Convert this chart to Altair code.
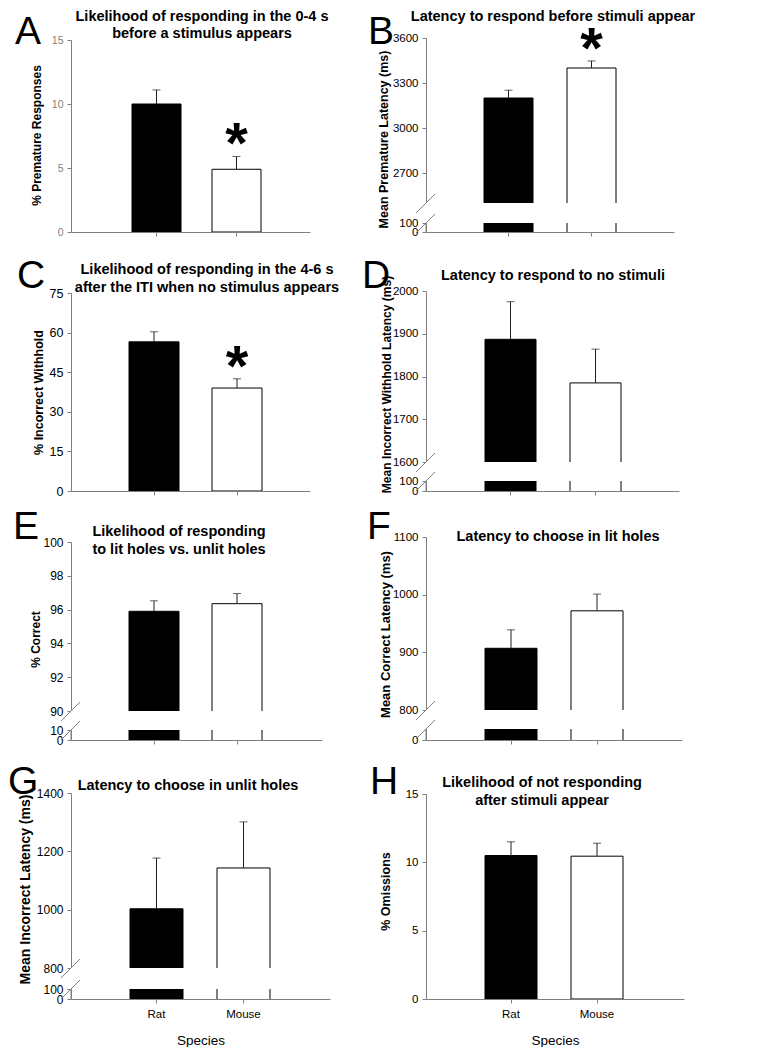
import altair as alt
import pandas as pd

# ---------------- data ----------------
species = ["Rat", "Mouse"]

prem_mean = [10.0, 4.9]          # A  % premature responses
prem_sem = [1.1, 1.0]
prem_sig = ["", "*"]

premlat_mean = [3200, 3400]      # B  mean premature latency (ms)
premlat_sem = [52, 47]
premlat_sig = ["", "*"]

incw_mean = [56.5, 39.0]         # C  % incorrect withhold
incw_sem = [3.8, 3.5]
incw_sig = ["", "*"]

incwlat_mean = [1887, 1785]      # D  mean incorrect withhold latency (ms)
incwlat_sem = [88, 79]

corr_mean = [95.9, 96.35]        # E  % correct
corr_sem = [0.62, 0.6]

corrlat_mean = [907, 972]        # F  mean correct latency (ms)
corrlat_sem = [32, 29]

incorrlat_mean = [1003, 1143]    # G  mean incorrect latency (ms)
incorrlat_sem = [174, 158]

omis_mean = [10.5, 10.45]        # H  % omissions
omis_sem = [1.0, 0.95]

no_sig = ["", ""]

# ---------------- styles ----------------
FONT = "Liberation Sans"
GRAY = "#7f7f7f"
ERR = "#1e1e1e"

panels = [
    dict(letter="A", mean=prem_mean, sem=prem_sem, sig=prem_sig,
         title=["Likelihood of responding in the 0-4 s", "before a stimulus appears"],
         ytitle="% Premature Responses", up=[0, 15], up_ticks=[0, 5, 10, 15], up_rng=[194, 2],
         W=239, H=194, bars=(61, 141, 49), tdx=11.5, tby=-17.5, ytx=-35, yty=97, yts=12,
         lx=-56, ly=6, labcol=GRAY, labsize=10.5),
    dict(letter="B", mean=premlat_mean, sem=premlat_sem, sig=premlat_sig,
         title=["Latency to respond before stimuli appear"],
         ytitle="Mean Premature Latency (ms)", up=[2500, 3600], up_ticks=[2700, 3000, 3300, 3600],
         up_rng=[165, 0], lo=[0, 100], lo_ticks=[0, 100], lo_rng=[194, 185],
         W=248, H=194, bars=(58, 141, 49), tdx=3, tby=-17.5, ytx=-43, yty=101, yts=12.5,
         lx=-58, ly=6),
    dict(letter="C", mean=incw_mean, sem=incw_sem, sig=incw_sig,
         title=["Likelihood of responding in the 4-6 s", "after the ITI when no stimulus appears"],
         ytitle="% Incorrect Withhold", up=[0, 75], up_ticks=[0, 15, 30, 45, 60, 75], up_rng=[213, 15],
         W=239, H=213, bars=(58, 141, 50), tdx=16.5, tby=-4, ytx=-33, yty=114, yts=12.5,
         lx=-54, ly=10, labsize=12.5),
    dict(letter="D", mean=incwlat_mean, sem=incwlat_sem, sig=no_sig,
         title=["Latency to respond to no stimuli"],
         ytitle="Mean Incorrect Withhold Latency (ms)", up=[1600, 2000],
         up_ticks=[1600, 1700, 1800, 1900, 2000], up_rng=[184, 13],
         lo=[0, 100], lo_ticks=[0, 100], lo_rng=[213, 203],
         W=253, H=213, bars=(59, 144, 51), tdx=0.5, tby=2, ytx=-40, yty=106, yts=12,
         lx=-64, ly=10),
    dict(letter="E", mean=corr_mean, sem=corr_sem, sig=no_sig,
         title=["Likelihood of responding", "to lit holes vs. unlit holes"],
         ytitle="% Correct", up=[90, 100], up_ticks=[90, 92, 94, 96, 98, 100], up_rng=[174, 5],
         lo=[0, 10], lo_ticks=[0, 10], lo_rng=[203, 193],
         W=251, H=203, bars=(58, 141, 50), tdx=-17.5, tby=-1, ytx=-36, yty=102, yts=12,
         lx=-58, ly=2, labsize=12),
    dict(letter="F", mean=corrlat_mean, sem=corrlat_sem, sig=no_sig,
         title=["Latency to choose in lit holes"],
         ytitle="Mean Correct Latency (ms)", up=[800, 1100], up_ticks=[800, 900, 1000, 1100],
         up_rng=[173, 0], lo=[0, 100], lo_ticks=[0], lo_rng=[203, 192],
         W=256, H=203, bars=(59, 145, 52), tdx=4, tby=4, ytx=-41, yty=97, yts=13,
         lx=-59, ly=2),
    dict(letter="G", mean=incorrlat_mean, sem=incorrlat_sem, sig=no_sig,
         title=["Latency to choose in unlit holes"],
         ytitle="Mean Incorrect Latency (ms)", up=[800, 1400], up_ticks=[800, 1000, 1200, 1400],
         up_rng=[182, 7], lo=[0, 100], lo_ticks=[0, 100], lo_rng=[213, 203],
         W=259, H=213, bars=(59, 146, 53), tdx=-12.5, tby=4, ytx=-46, yty=103, yts=14,
         lx=-63, ly=8, bottom=True, labsize=12),
    dict(letter="H", mean=omis_mean, sem=omis_sem, sig=no_sig,
         title=["Likelihood of not responding", "after stimuli appear"],
         ytitle="% Omissions", up=[0, 15], up_ticks=[0, 5, 10, 15], up_rng=[213, 8],
         W=258, H=213, bars=(59, 145, 52), tdx=-13, tby=1, ytx=-41, yty=105, yts=12.5,
         lx=-56, ly=8, bottom=True),
]


def label_style(p):
    return dict(labelFont=FONT, labelFontSize=p.get("labsize", 11.5), labelColor=p.get("labcol", "black"),
                labelPadding=4, labelOverlap=False, labelFlush=False, domainColor=GRAY,
                tickColor=GRAY, tickSize=4, grid=False, format="d")


def make_panel(p):
    W, H = p["W"], p["H"]
    L, M, bw = p["bars"]
    step = M - L
    pin = 1 - bw / step
    pout = (W / step - 2 + pin) / 2
    align = L / (W - step * (2 - pin))
    bottom = p.get("bottom", False)

    df = pd.DataFrame({"species": species, "mean": p["mean"], "sem": p["sem"], "sig": p["sig"]})

    xkw = dict(domainColor=GRAY, tickColor=GRAY, tickSize=4, labels=bottom, labelAngle=0,
               labelFont=FONT, labelFontSize=11.5, labelColor="black", labelPadding=5, grid=False)
    if bottom:
        xkw.update(title="Species", titleFont=FONT, titleFontSize=13.5, titleFontWeight="normal",
                   titleColor="black", titleY=41, titleBaseline="middle")
    else:
        xkw.update(title=None)
    x = alt.X("species:N", sort=species,
              scale=alt.Scale(domain=species, paddingInner=pin, paddingOuter=pout, align=align),
              axis=alt.Axis(**xkw))

    up_scale = alt.Scale(domain=p["up"], range=p["up_rng"], zero=False, nice=False)
    yaxis = alt.Axis(orient="left", values=p["up_ticks"], title=p["ytitle"],
                     titleX=p["ytx"], titleY=p["yty"], titleAngle=270, titleAlign="center",
                     titleBaseline="middle", titleFont=FONT, titleFontSize=p["yts"],
                     titleFontWeight="bold", titleColor="black", **label_style(p))

    base = alt.Chart(df).transform_calculate(err="datum.mean + datum.sem")
    bars = base.mark_bar(stroke="black", strokeWidth=1, clip=True).encode(
        x=x,
        y=alt.Y("mean:Q", scale=up_scale, axis=yaxis),
        fill=alt.Fill("species:N", scale=alt.Scale(domain=species, range=["black", "white"]), legend=None),
    )
    rule = base.mark_rule(color=ERR, strokeWidth=1).encode(
        x=x, y=alt.Y("mean:Q", scale=up_scale, axis=yaxis), y2="err:Q")
    cap = base.mark_tick(color=ERR, size=8, thickness=1).encode(
        x=x, y=alt.Y("err:Q", scale=up_scale, axis=yaxis))
    star = base.transform_filter("datum.sig != ''").mark_text(
        font=FONT, fontSize=58, fontWeight="bold", baseline="alphabetic", dy=7, color="black"
    ).encode(x=x, y=alt.Y("err:Q", scale=up_scale, axis=yaxis), text="sig:N")
    inner = alt.layer(bars, rule, cap, star)

    one = pd.DataFrame({"t": [p["letter"]]})
    letter = alt.Chart(one).mark_text(font=FONT, fontSize=39, align="left", baseline="alphabetic",
                                      color="black").encode(
        x=alt.value(p["lx"]), y=alt.value(p["ly"]), text="t:N")

    tdf = pd.DataFrame({"t": ["\n".join(p["title"])]})
    title = alt.Chart(tdf).mark_text(font=FONT, fontSize=14.5, fontWeight="bold", align="center",
                                     baseline="alphabetic", lineBreak="\n", lineHeight=17.5,
                                     color="black").encode(
        x=alt.value(W / 2 + p["tdx"]), y=alt.value(p["tby"]), text="t:N")

    layers = [inner]
    if "lo" in p:
        ub = p["up_rng"][0]
        lt = p["lo_rng"][1]
        mask = alt.Chart(one).mark_rect(color="white").encode(
            x=alt.value(0), x2=alt.value(W), y=alt.value(ub), y2=alt.value(lt))
        low_axis = alt.Axis(orient="left", values=p["lo_ticks"], title=None, **label_style(p))
        low = alt.Chart(one).mark_rule(color=GRAY, strokeWidth=1).encode(
            x=alt.value(0),
            y=alt.YDatum(p["lo"][0], type="quantitative",
                         scale=alt.Scale(domain=p["lo"], range=p["lo_rng"], zero=False, nice=False),
                         axis=low_axis),
            y2=alt.Y2Datum(p["lo"][1]))
        brk1 = alt.Chart(one).mark_rule(color=GRAY, strokeWidth=1).encode(
            x=alt.value(-10), x2=alt.value(9), y=alt.value(ub + 10), y2=alt.value(ub - 9))
        brk2 = alt.Chart(one).mark_rule(color=GRAY, strokeWidth=1).encode(
            x=alt.value(-10), x2=alt.value(9), y=alt.value(lt + 10), y2=alt.value(lt - 9))
        layers += [mask, low, brk1, brk2]
    layers += [letter, title]

    chart = alt.layer(*layers)
    if "lo" in p:
        chart = chart.resolve_scale(y="independent")
    return chart.properties(width=W, height=H)


charts = [make_panel(p) for p in panels]

chart = alt.concat(*charts, columns=2, spacing={"row": 46, "column": 96}, bounds="flush",
                   align="each").configure_view(strokeWidth=0).properties(
    padding={"left": 0, "top": 0, "right": 0, "bottom": 0})

chart.save("out.html", embed_options={"renderer": "svg", "actions": False})
